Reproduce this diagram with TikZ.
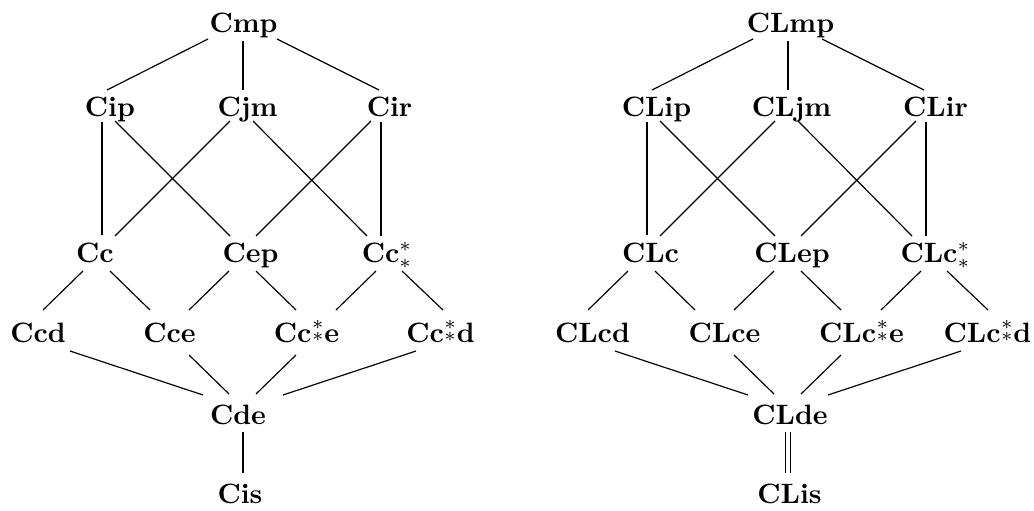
\documentclass[tikz,border=0pt]{standalone}
\newcommand\tstars{\kern0.2pt\rlap{\raisebox{4.3pt}{$\scriptstyle\ast$}}\raisebox{0.25pt}{$\scriptstyle\ast$}\kern0.3pt}
\begin{document}
\begin{tikzpicture}[x=0.35714pt,y=-0.35714pt,
  lab/.style={inner sep=0pt,outer sep=0pt,anchor=base,font=\bfseries},
  edge/.style={line width=0.42pt},
  dbl/.style={line width=0.42pt,double,double distance=1.6pt}]
\useasboundingbox (0,0) rectangle (1034,511);
% ---------- left lattice ----------
\node[lab] (Cmp) at (243.5,32) {Cmp};
\node[lab] (Cip) at (110,116) {Cip};
\node[lab] (Cjm) at (247.5,116) {Cjm};
\node[lab] (Cir) at (389.5,116) {Cir};
\node[lab] (Cc) at (95,262) {Cc};
\node[lab] (Cep) at (250.5,262) {Cep};
\node[lab] (Ccs) at (387,262) {Cc$^*_*$};
\node[lab] (Ccd) at (38,342) {Ccd};
\node[lab] (Cce) at (169.5,342) {Cce};
\node[lab] (Ccse) at (306.5,342) {Cc\tstars e};
\node[lab] (Ccsd) at (440.5,342) {Cc\tstars d};
\node[lab] (Cde) at (238,424) {Cde};
\node[lab] (Cis) at (240,503) {Cis};
\draw[edge] ([shift={(-35.5,7)}]Cmp.base) -- ([shift={(-3,-26)}]Cip.base);
\draw[edge] ([shift={(-0.5,9)}]Cmp.base) -- ([shift={(-4.5,-26)}]Cjm.base);
\draw[edge] ([shift={(33.5,7)}]Cmp.base) -- ([shift={(-10.5,-26)}]Cir.base);
\draw[edge] ([shift={(-8,6)}]Cip.base) -- ([shift={(7,-27)}]Cc.base);
\draw[edge] ([shift={(5,5)}]Cip.base) -- ([shift={(-20.5,-26)}]Cep.base);
\draw[edge] ([shift={(-17.5,5)}]Cjm.base) -- ([shift={(20,-26)}]Cc.base);
\draw[edge] ([shift={(5.5,5)}]Cjm.base) -- ([shift={(-20,-26)}]Ccs.base);
\draw[edge] ([shift={(-18.5,5)}]Cir.base) -- ([shift={(5.5,-26)}]Cep.base);
\draw[edge] ([shift={(-8.5,6)}]Cir.base) -- ([shift={(-6,-26)}]Ccs.base);
\draw[edge] ([shift={(-12,9)}]Cc.base) -- ([shift={(5,-32)}]Ccd.base);
\draw[edge] ([shift={(15,9)}]Cc.base) -- ([shift={(-19.5,-32)}]Cce.base);
\draw[edge] ([shift={(-21.5,9)}]Cep.base) -- ([shift={(19.5,-32)}]Cce.base);
\draw[edge] ([shift={(5.5,9)}]Cep.base) -- ([shift={(-10.5,-32)}]Ccse.base);
\draw[edge] ([shift={(-11,9)}]Ccs.base) -- ([shift={(29.5,-32)}]Ccse.base);
\draw[edge] ([shift={(15,9)}]Ccs.base) -- ([shift={(2.5,-32)}]Ccsd.base);
\draw[edge] ([shift={(32,9)}]Ccd.base) -- ([shift={(-35,-29)}]Cde.base);
\draw[edge] ([shift={(19.5,13)}]Cce.base) -- ([shift={(-9,-30)}]Cde.base);
\draw[edge] ([shift={(-10.5,13)}]Ccse.base) -- ([shift={(18,-30)}]Cde.base);
\draw[edge] ([shift={(-24.5,9)}]Ccsd.base) -- ([shift={(45,-29)}]Cde.base);
\draw[edge] ([shift={(5,8)}]Cde.base) -- ([shift={(3,-30)}]Cis.base);
% ---------- right lattice ----------
\node[lab] (CLmp) at (790.5,32) {CLmp};
\node[lab] (CLip) at (656.5,116) {CLip};
\node[lab] (CLjm) at (791.5,116) {CLjm};
\node[lab] (CLir) at (935.5,116) {CLir};
\node[lab] (CLc) at (650.5,262) {CLc};
\node[lab] (CLep) at (792,262) {CLep};
\node[lab] (CLcs) at (935.5,262) {CLc$^*_*$};
\node[lab] (CLcd) at (592.5,342) {CLcd};
\node[lab] (CLce) at (724.5,342) {CLce};
\node[lab] (CLcse) at (861.5,342) {CLc\tstars e};
\node[lab] (CLcsd) at (987.5,342) {CLc\tstars d};
\node[lab] (CLde) at (790,424) {CLde};
\node[lab] (CLis) at (789.5,503) {CLis};
\draw[edge] ([shift={(-37.5,7)}]CLmp.base) -- ([shift={(-4.5,-26)}]CLip.base);
\draw[edge] ([shift={(-2.5,9)}]CLmp.base) -- ([shift={(-3.5,-26)}]CLjm.base);
\draw[edge] ([shift={(31.5,7)}]CLmp.base) -- ([shift={(-11.5,-26)}]CLir.base);
\draw[edge] ([shift={(-9.5,6)}]CLip.base) -- ([shift={(-3.5,-27)}]CLc.base);
\draw[edge] ([shift={(3.5,5)}]CLip.base) -- ([shift={(-17,-26)}]CLep.base);
\draw[edge] ([shift={(-16.5,5)}]CLjm.base) -- ([shift={(9.5,-26)}]CLc.base);
\draw[edge] ([shift={(6.5,5)}]CLjm.base) -- ([shift={(-23.5,-26)}]CLcs.base);
\draw[edge] ([shift={(-19.5,5)}]CLir.base) -- ([shift={(9,-26)}]CLep.base);
\draw[edge] ([shift={(-9.5,6)}]CLir.base) -- ([shift={(-9.5,-26)}]CLcs.base);
\draw[edge] ([shift={(-22.5,9)}]CLc.base) -- ([shift={(-4.5,-32)}]CLcd.base);
\draw[edge] ([shift={(4.5,9)}]CLc.base) -- ([shift={(-29.5,-32)}]CLce.base);
\draw[edge] ([shift={(-18,9)}]CLep.base) -- ([shift={(9.5,-32)}]CLce.base);
\draw[edge] ([shift={(9,9)}]CLep.base) -- ([shift={(-20.5,-32)}]CLcse.base);
\draw[edge] ([shift={(-14.5,9)}]CLcs.base) -- ([shift={(19.5,-32)}]CLcse.base);
\draw[edge] ([shift={(11.5,9)}]CLcs.base) -- ([shift={(0.5,-32)}]CLcsd.base);
\draw[edge] ([shift={(22.5,9)}]CLcd.base) -- ([shift={(-42,-29)}]CLde.base);
\draw[edge] ([shift={(9.5,13)}]CLce.base) -- ([shift={(-16,-30)}]CLde.base);
\draw[edge] ([shift={(-20.5,13)}]CLcse.base) -- ([shift={(11,-30)}]CLde.base);
\draw[edge] ([shift={(-26.5,9)}]CLcsd.base) -- ([shift={(38,-29)}]CLde.base);
\draw[dbl] ([shift={(-2,8)}]CLde.base) -- ([shift={(-1.5,-30)}]CLis.base);
\end{tikzpicture}
\end{document}
